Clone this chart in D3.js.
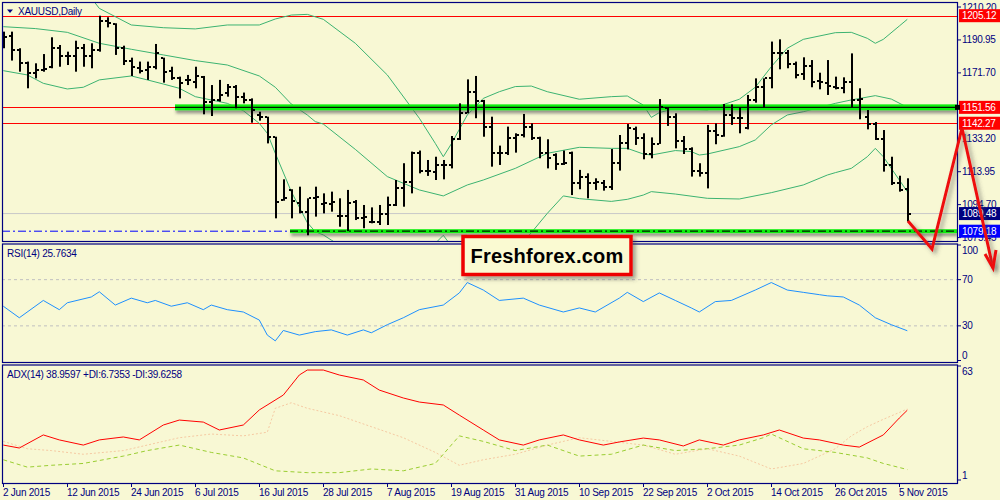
<!DOCTYPE html>
<html><head><meta charset="utf-8">
<script src="https://cdn.jsdelivr.net/npm/d3@7"></script>
<style>body{margin:0;background:#f8f8d4;} svg{display:block}</style>
</head><body>
<svg id="c" width="1000" height="500"></svg>
<script>
// ---------- DATA ----------
const symbol = "XAUUSD,Daily";
const opens = [1194.8,1193.5,1185.1,1177.3,1171.4,1173.4,1175.3,1186.1,1181.6,1181.6,
1186.1,1181.6,1185.1,1202.2,1200.3,1186.1,1178.7,1174.4,1173.4,1175.3,
1180.2,1173.0,1168.5,1167.6,1166.6,1169.5,1154.9,1155.9,1159.8,1163.3,
1157.8,1155.9,1147.1,1145.7,1134.0,1097.4,1103.3,1095.9,1090.6,1098.4,
1095.1,1095.1,1088.1,1088.1,1096.5,1086.7,1084.8,1084.8,1089.2,1094.5,
1104.2,1108.1,1124.7,1114.6,1114.0,1117.7,1117.9,1132.9,1148.5,1160.7,
1155.5,1140.3,1124.7,1125.1,1133.5,1135.4,1140.3,1133.5,1124.7,1123.7,
1118.5,1124.7,1107.2,1111.1,1107.6,1107.6,1104.8,1118.9,1130.9,1138.7,
1133.5,1124.3,1130.2,1151.0,1145.7,1131.9,1127.0,1114.6,1113.0,1137.9,
1134.8,1147.1,1145.5,1139.3,1155.9,1163.3,1168.5,1183.5,1183.1,1176.9,
1171.1,1175.7,1167.2,1166.0,1163.7,1162.7,1166.6,1155.9,1146.1,1141.8,
1132.9,1117.9,1107.6,1103.7];
const highs = [1195.8,1195.8,1186.1,1178.3,1177.3,1182.7,1192.5,1188.0,1184.1,1190.5,
1188.6,1189.0,1205.1,1204.2,1200.7,1187.6,1180.6,1178.3,1178.3,1188.6,
1180.6,1175.3,1169.5,1170.5,1175.3,1169.9,1164.6,1167.6,1165.2,1164.6,
1160.2,1156.8,1149.0,1146.1,1134.4,1109.5,1103.7,1105.2,1098.4,1105.2,
1101.3,1102.3,1098.4,1103.3,1097.4,1094.5,1093.1,1094.5,1099.4,1109.1,
1118.9,1125.7,1126.3,1120.8,1122.7,1120.8,1134.8,1153.9,1167.9,1169.9,
1155.9,1146.1,1129.2,1140.3,1136.4,1147.7,1142.2,1134.4,1132.9,1124.7,
1126.3,1125.7,1115.0,1113.0,1110.1,1109.1,1127.2,1135.4,1141.8,1140.3,
1136.4,1134.0,1156.4,1151.6,1148.1,1134.8,1128.2,1118.9,1141.3,1142.2,
1153.5,1153.3,1151.6,1158.8,1168.5,1168.5,1190.0,1191.3,1185.1,1178.3,
1180.8,1179.2,1171.8,1179.2,1169.5,1169.1,1183.1,1162.7,1150.0,1143.0,
1138.3,1122.7,1111.6,1110.1];
const lows = [1186.1,1178.9,1172.4,1162.7,1168.5,1172.4,1174.4,1175.3,1176.3,1172.4,
1175.3,1174.4,1184.1,1198.3,1182.2,1176.3,1169.9,1171.4,1167.6,1173.8,
1166.0,1167.6,1156.8,1164.6,1162.7,1147.5,1146.5,1154.9,1157.8,1151.0,
1153.9,1142.6,1143.8,1130.5,1086.7,1097.0,1086.7,1089.6,1076.8,1087.7,
1089.6,1090.6,1081.8,1079.2,1085.7,1080.9,1083.8,1082.8,1082.8,1093.9,
1093.5,1101.3,1113.0,1111.5,1109.1,1109.5,1115.9,1132.5,1148.1,1145.2,
1134.4,1116.9,1117.9,1123.7,1125.1,1134.0,1132.5,1121.8,1115.9,1115.0,
1117.9,1100.3,1103.7,1098.4,1103.3,1102.9,1103.3,1114.6,1127.0,1129.6,
1121.2,1121.8,1130.2,1140.7,1127.6,1124.3,1111.1,1111.1,1104.2,1130.0,
1134.4,1141.3,1136.4,1138.7,1154.3,1151.6,1162.7,1173.8,1174.4,1168.5,
1167.6,1163.3,1162.1,1158.8,1162.1,1159.8,1151.6,1144.6,1138.7,1132.5,
1114.0,1106.2,1102.3,1084.8];
const closes = [1192.9,1185.1,1177.3,1171.4,1173.4,1173.8,1186.1,1181.6,1181.6,1186.1,
1181.6,1185.1,1202.2,1201.1,1186.1,1178.7,1175.3,1173.0,1175.3,1183.5,
1172.4,1168.5,1165.6,1167.6,1169.9,1154.9,1155.9,1158.8,1163.3,1157.8,
1155.9,1150.0,1146.1,1134.4,1096.5,1098.4,1097.0,1090.6,1098.4,1099.0,
1095.5,1096.5,1088.1,1095.9,1086.7,1087.3,1084.8,1089.2,1094.5,1104.2,
1108.1,1124.7,1114.6,1114.6,1117.7,1117.9,1132.9,1148.5,1160.7,1155.5,
1140.3,1124.7,1125.1,1133.5,1135.4,1140.3,1133.5,1124.7,1121.8,1118.5,
1118.9,1107.2,1111.1,1107.6,1108.1,1104.8,1119.2,1130.9,1139.3,1133.5,
1124.3,1130.2,1151.6,1145.7,1131.9,1127.0,1114.6,1113.0,1137.9,1135.4,
1147.1,1145.5,1145.2,1155.9,1163.3,1168.5,1183.5,1183.5,1176.9,1170.5,
1175.7,1166.6,1166.6,1164.0,1162.7,1166.6,1155.9,1156.3,1141.8,1132.9,
1117.9,1107.6,1103.3,1089.48];

// Bollinger bands (bar index, value)
const bbUpIdx = [0,4,8,10,11,12,16,20,24,28,32,34,36,38,40,44,48,52,54,55,56,58,60,62,64,66,68,72,76,78,80,81,82,84,88,92,94,96,98,100,104,106,108,109,110,112,113];
const bbUpVal = [1224.4,1226.4,1228.5,1221.7,1215.5,1209.4,1199.7,1198.1,1197.4,1199.7,1199.7,1203.2,1205.5,1205.9,1203.0,1189.0,1170.5,1145.2,1130.5,1122.7,1130.2,1147.1,1156.8,1160.7,1163.7,1164.0,1160.7,1156.3,1157.8,1158.2,1152.9,1145.7,1148.5,1151.0,1150.0,1156.3,1163.3,1175.3,1186.1,1191.3,1195.2,1195.4,1191.9,1189.0,1191.3,1199.1,1203.0];
const bbMidIdx = [0,4,8,12,16,20,24,28,32,34,36,38,39,40,44,48,52,55,58,60,64,68,72,76,78,80,81,84,86,87,88,92,94,96,98,100,104,106,109,111,113];
const bbMidVal = [1198.7,1197.6,1195.4,1189.0,1185.5,1182.2,1178.9,1176.3,1169.9,1163.3,1153.5,1147.1,1143.2,1141.8,1127.0,1111.1,1103.3,1099.8,1106.2,1109.1,1115.9,1124.7,1128.2,1127.6,1127.6,1124.3,1123.7,1126.3,1125.7,1123.7,1124.3,1128.6,1132.5,1141.3,1147.1,1149.0,1153.9,1155.9,1158.4,1156.4,1151.6];
const bbLowIdx = [0,3,5,8,10,12,16,18,20,22,24,28,30,32,33,34,36,38,39,40,41,44,48,52,54,55,56,58,60,62,64,66,68,70,72,76,78,80,81,84,88,92,96,100,103,104,106,108,109,110,112,113];
const bbLowVal = [1173.0,1170.5,1165.6,1162.3,1163.3,1167.6,1169.9,1167.6,1165.2,1162.7,1157.8,1153.9,1149.6,1142.2,1136.4,1124.7,1102.3,1084.2,1078.9,1077.0,1074.0,1065.1,1051.6,1061.4,1072.1,1076.8,1070.5,1065.3,1061.4,1064.3,1068.2,1078.3,1089.6,1099.8,1098.2,1096.6,1097.8,1100.3,1102.3,1100.9,1098.4,1098.0,1101.7,1106.2,1112.0,1113.4,1115.9,1122.7,1127.6,1122.7,1109.1,1102.3];

// RSI(14) (bar index, value)
const rsiIdx = [0,2,5,7,8,11,12,14,16,18,19,21,23,25,26,28,30,32,33,34,35,37,39,41,43,45,46,48,50,52,55,57,58,60,62,65,67,70,72,74,77,78,80,82,84,86,87,89,91,94,96,98,100,102,103,105,107,109,111,113];
const rsiVal = [47,37,52,44,50,55,59.5,48,54,50,52,47,50,44,48,44,42,35,22,17,26,22,25,26.5,22,26.5,24,31,37,44,48,58.5,67.5,61,52,54,48,42,45.5,42,54,59,51,58.5,52,45.5,42,51,52,61,67.5,61,59,57,56,55,48,37,31,25.76];

// ADX(14), +DI, -DI
const adxIdx = [0,2,5,7,10,12,15,17,20,22,25,27,30,32,35,37,38,40,42,45,47,50,52,55,57,60,62,65,67,70,72,75,77,80,82,85,87,90,92,95,97,100,102,105,107,110,112,113];
const adxVal = [20.0,18.4,25.5,22.8,20.0,22.8,24.4,22.8,30.9,33.6,32.5,28.2,30.9,39.1,47.2,58.1,60.8,60.8,58.1,55.4,49.9,45.6,43.4,41.8,36.3,28.2,22.8,20.0,22.8,25.5,22.8,20.0,21.7,23.8,22.8,19.5,22.8,20.0,22.8,25.5,28.2,23.8,22.8,20.0,18.9,25.5,34.7,38.96];
const pdiIdx = [0,3,6,10,15,18,22,26,30,34,38,42,46,50,54,57,60,64,68,72,76,80,84,88,92,95,96,100,104,108,110,113];
const pdiVal = [12,8,9,10,14,17,20,16,13,6,5,5,7,6,10,25,22,17,20,14,15,20,17,18,20,24,26,18,16,13,10,6.7];
const mdiIdx = [0,3,6,10,15,18,22,26,30,33,34,36,38,42,46,50,54,57,60,64,68,72,76,80,84,88,92,96,100,104,106,108,110,113];
const mdiVal = [22,18,17,15,17,20,24,26,25,27,40,43,40,36,30,24,16,9,12,15,20,24,22,20,15,18,14,7,10,18,25,30,34,39.6];

const priceTicks = [1210.20,1190.95,1171.70,1152.45,1133.20,1113.95,1094.70,1075.45];
const rsiTicks = [100,70,30,0];
const rsiLevels = [70,30];
const adxTicks = [63,1];
const dateTickIdx = [0,8,16,24,32,40,48,56,64,72,80,88,96,104,112];
const dateLabels = ["2 Jun 2015","12 Jun 2015","24 Jun 2015","6 Jul 2015","16 Jul 2015","28 Jul 2015","7 Aug 2015","19 Aug 2015","31 Aug 2015","10 Sep 2015","22 Sep 2015","2 Oct 2015","14 Oct 2015","26 Oct 2015","5 Nov 2015"];
const levels = [
  {price:1205.12, color:"#ff0000", text:"#ffffff"},
  {price:1151.56, color:"#ff0000", text:"#ffffff"},
  {price:1142.27, color:"#ff0000", text:"#ffffff"},
  {price:1089.48, color:"#000080", text:"#ffffff"},
  {price:1079.18, color:"#0000ff", text:"#ffffff"}
];
const rsiTitle = "RSI(14) 25.7634";
const adxTitle = "ADX(14) 38.9597 +DI:6.7353 -DI:39.6258";
const logoText = "Freshforex.com";

// ---------- DRAW ----------
const svg = d3.select("#c");
const BG = "#f8f8d4", NAVY = "#000080", FONT = "'Liberation Sans', Arial, sans-serif";
const L = 2, R = 957;
const P = {main:[2,241], rsi:[243.5,362], adx:[364.5,483]};

const defs = svg.append("defs");
const sh = defs.append("filter").attr("id","sh").attr("filterUnits","userSpaceOnUse").attr("x",0).attr("y",0).attr("width",1000).attr("height",500);
sh.append("feDropShadow").attr("dx",1).attr("dy",3).attr("stdDeviation",1.8).attr("flood-color","#555").attr("flood-opacity",0.6);
const sh2 = defs.append("filter").attr("id","sh2").attr("filterUnits","userSpaceOnUse").attr("x",0).attr("y",0).attr("width",1000).attr("height",500);
sh2.append("feDropShadow").attr("dx",3).attr("dy",3).attr("stdDeviation",2).attr("flood-color","#444").attr("flood-opacity",0.5);
Object.entries(P).forEach(([k,[t,b]]) => {
  defs.append("clipPath").attr("id","clip-"+k).append("rect").attr("x",L).attr("y",t).attr("width",R-L).attr("height",b-t);
});

svg.append("rect").attr("width",1000).attr("height",500).attr("fill",BG);

const x = d3.scaleLinear().domain([0,113]).range([3.3, 907.3]);
const y = d3.scaleLinear().domain([1205.12,1079.18]).range([15.7,231.2]);
const yR = d3.scaleLinear().domain([0,100]).range([360.5,245]);
const yA = d3.scaleLinear().domain([1,63]).range([480,366]);

const gMain = svg.append("g").attr("clip-path","url(#clip-main)");
const gRsi = svg.append("g").attr("clip-path","url(#clip-rsi)");
const gAdx = svg.append("g").attr("clip-path","url(#clip-adx)");

// gray bid line
gMain.append("line").attr("x1",L).attr("x2",R).attr("y1",y(1089.48)).attr("y2",y(1089.48)).attr("stroke","#c8c8c8").attr("stroke-width",1);
// red horizontal lines
[1205.12,1151.56,1142.27].forEach(p => {
  gMain.append("line").attr("x1",L).attr("x2",R).attr("y1",Math.round(y(p))+0.5).attr("y2",Math.round(y(p))+0.5).attr("stroke","#ff0000").attr("stroke-width",1);
});
// blue dash-dot support
gMain.append("line").attr("x1",L).attr("x2",R).attr("y1",y(1079.18)).attr("y2",y(1079.18)).attr("stroke","#0000ff").attr("stroke-width",1).attr("stroke-dasharray","8,3,2,3");

// Bollinger bands
const bbLine = d3.line().x(d=>x(d[0])).y(d=>y(d[1]));
[[bbUpIdx,bbUpVal],[bbMidIdx,bbMidVal],[bbLowIdx,bbLowVal]].forEach(([ix,vs]) => {
  gMain.append("path").attr("d", bbLine(ix.map((v,i)=>[v,vs[i]]))).attr("fill","none").attr("stroke","#3cb371").attr("stroke-width",1);
});

// thick green lines with shadow
function greenLine(x1, p, dashed){
  const yy = y(p), h = dashed ? 4 : 6;
  gMain.append("rect").attr("x",x1).attr("width",R-x1).attr("y",yy-h/2).attr("height",h).attr("fill","#11f011").attr("filter","url(#sh)");
  gMain.append("line").attr("x1",x1).attr("x2",R).attr("y1",yy).attr("y2",yy).attr("stroke","#001800").attr("stroke-width",dashed?1.2:1.3).attr("stroke-dasharray",dashed?"8,3,2,3":null);
}
greenLine(175, 1151.56, false);
greenLine(290, 1079.18, true);

// OHLC bars
const bars = gMain.append("g");
opens.forEach((o,i) => {
  const cx = Math.round(x(i));
  bars.append("rect").attr("x",cx).attr("y",y(highs[i])).attr("width",2).attr("height",Math.max(1,y(lows[i])-y(highs[i]))).attr("fill","#000");
  bars.append("rect").attr("x",cx-2).attr("y",Math.round(y(o))-1).attr("width",2).attr("height",2).attr("fill","#000");
  bars.append("rect").attr("x",cx+2).attr("y",Math.round(y(closes[i]))-1).attr("width",2).attr("height",2).attr("fill","#000");
});

// RSI
rsiLevels.forEach(v => gRsi.append("line").attr("x1",L).attr("x2",R).attr("y1",yR(v)).attr("y2",yR(v)).attr("stroke","#c0c0c0").attr("stroke-dasharray","3,3"));
gRsi.append("path").attr("d", d3.line().x(d=>x(d[0])).y(d=>yR(d[1]))(rsiIdx.map((v,i)=>[v,rsiVal[i]]))).attr("fill","none").attr("stroke","#1e90ff").attr("stroke-width",1);

// ADX
const la = d3.line().x(d=>x(d[0])).y(d=>yA(d[1]));
gAdx.append("path").attr("d", la(mdiIdx.map((v,i)=>[v,mdiVal[i]]))).attr("fill","none").attr("stroke","#f5c9a2").attr("stroke-width",1).attr("stroke-dasharray","2,2");
gAdx.append("path").attr("d", la(pdiIdx.map((v,i)=>[v,pdiVal[i]]))).attr("fill","none").attr("stroke","#9acd32").attr("stroke-width",1).attr("stroke-dasharray","4,3");
gAdx.append("path").attr("d", la(adxIdx.map((v,i)=>[v,adxVal[i]]))).attr("fill","none").attr("stroke","#ff0000").attr("stroke-width",1);

// panel borders
Object.values(P).forEach(([t,b]) => {
  svg.append("rect").attr("x",L+0.5).attr("y",t+0.5).attr("width",R-L).attr("height",b-t).attr("fill","none").attr("stroke",NAVY).attr("stroke-width",1.2);
});

// text helpers
function txt(xx, yy, s, opt={}){
  return svg.append("text").attr("x",xx).attr("y",yy).text(s)
    .attr("font-family",FONT).attr("font-size",opt.size||10).attr("fill",opt.fill||NAVY)
    .attr("letter-spacing",opt.ls!=null?opt.ls:-0.25).attr("dominant-baseline","central")
    .attr("text-anchor",opt.anchor||"start").attr("font-weight",opt.bold?"bold":null);
}

// price axis
priceTicks.forEach(p => {
  svg.append("line").attr("x1",R).attr("x2",R+4).attr("y1",y(p)).attr("y2",y(p)).attr("stroke",NAVY);
  txt(962, y(p), p.toFixed(2));
});
rsiTicks.forEach(v => {
  svg.append("line").attr("x1",R).attr("x2",R+4).attr("y1",yR(v)).attr("y2",yR(v)).attr("stroke",NAVY);
  const yy = v===100 ? yR(v)+5 : v===0 ? yR(v)-5 : yR(v);
  txt(962, yy, String(v));
});
adxTicks.forEach(v => {
  svg.append("line").attr("x1",R).attr("x2",R+4).attr("y1",yA(v)).attr("y2",yA(v)).attr("stroke",NAVY);
  const yy = v===63 ? yA(v)+5 : yA(v)-5;
  txt(962, yy, String(v));
});
// date axis
dateTickIdx.forEach((d,k) => {
  const xx = Math.round(x(d))+0.5;
  svg.append("line").attr("x1",xx).attr("x2",xx).attr("y1",P.adx[1]).attr("y2",P.adx[1]+4).attr("stroke",NAVY);
  txt(xx-0.5, 492, dateLabels[k]);
});

// level labels
levels.forEach(l => {
  const yy = y(l.price);
  svg.append("rect").attr("x",959).attr("y",yy-6.5).attr("width",41).attr("height",13).attr("fill",l.color);
  txt(962, yy, l.price.toFixed(2), {fill:l.text});
});
svg.append("rect").attr("x",955).attr("y",y(1151.56)-2.5).attr("width",5).attr("height",5).attr("fill","#000");

// titles
svg.append("path").attr("d","M7,9.5 L13,9.5 L10,13 Z").attr("fill",NAVY);
txt(18, 11, symbol);
txt(7, 253, rsiTitle);
txt(7, 374, adxTitle);

// red hand-drawn arrows
const arrowPts = [[908,221],[932,249],[962,128],[993,268]];
svg.append("path").attr("d", d3.line()(arrowPts)).attr("fill","none").attr("stroke","#ee1111").attr("stroke-width",3).attr("stroke-linejoin","miter").attr("filter","url(#sh2)");
svg.append("path").attr("d","M985,254 L993,268 L996,250").attr("fill","none").attr("stroke","#ee1111").attr("stroke-width",3).attr("filter","url(#sh2)");

// logo
svg.append("rect").attr("x",463).attr("y",236.5).attr("width",168).attr("height",38).attr("fill","#fafad2").attr("stroke","#ee0000").attr("stroke-width",3.5).attr("filter","url(#sh2)");
txt(547, 256, logoText, {size:20, bold:true, fill:"#000", anchor:"middle", ls:0.2});
</script>
</body></html>
